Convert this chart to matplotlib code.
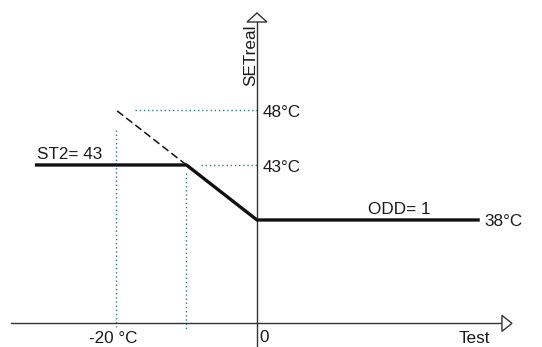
import matplotlib
matplotlib.use("Agg")
import matplotlib.pyplot as plt
from matplotlib.patches import Polygon

plt.rcParams['font.family'] = ['Liberation Sans', 'DejaVu Sans']

# Data (°C)
curve_x = [-31.5, -10, 0, 31.6]          # outdoor temperature
curve_y = [43, 43, 38, 38]               # SETreal
dash_x = [-10, -20]
dash_y = [43, 48]
st2 = 43
odd_val = 1
y_ticks = [48, 43]
y_tick_labels = ['48°C', '43°C']
end_label = '38°C'
x_tick_labels = ['-20 °C', '0']
x_tick_pos = [-20, 0]

x_axis_level = 28.6
x_axis_span = (-34.9, 34.75)
y_axis_top = 56.0

fig = plt.figure(figsize=(5.42, 3.47), dpi=100)
ax = fig.add_axes([0, 0, 1, 1])
ax.set_xlim(-36.45, 40.43)
ax.set_ylim(26.45, 58)
ax.axis('off')

axis_col = '#333333'
dot_col = '#2f7f72'

# axes lines
ax.plot(x_axis_span, [x_axis_level, x_axis_level], color=axis_col, lw=1.0, zorder=2)
ax.plot([0, 0], [26.45, y_axis_top], color=axis_col, lw=1.0, zorder=2)

# arrowheads (pixel offsets from axis ends)
def px(xd, yd):
    return ax.transData.transform((xd, yd))
inv = ax.transData.inverted()
ex, ey = px(x_axis_span[1], x_axis_level)
tri = [inv.transform((ex, ey + 8)), inv.transform((ex + 10, ey)), inv.transform((ex, ey - 8))]
ax.add_patch(Polygon(tri, closed=True, facecolor='white', edgecolor=axis_col, lw=1.0, zorder=3))
tx, ty = px(0, y_axis_top)
tri2 = [inv.transform((tx - 10, ty)), inv.transform((tx, ty + 9)), inv.transform((tx + 10, ty))]
ax.add_patch(Polygon(tri2, closed=True, facecolor='white', edgecolor=axis_col, lw=1.0, zorder=3))

# dotted guide lines
ax.plot([-17.3, 0], [dash_y[1], dash_y[1]], color=dot_col, lw=1.0, ls=(0, (1, 2)), zorder=1)
ax.plot([-8.0, 0], [st2, st2], color=dot_col, lw=1.0, ls=(0, (1, 2)), zorder=1)
ax.plot([dash_x[1], dash_x[1]], [46.2, x_axis_level - 0.3], color=dot_col, lw=1.0, ls=(0, (1, 2)), zorder=1)
ax.plot([dash_x[0], dash_x[0]], [42.3, x_axis_level - 0.6], color=dot_col, lw=1.0, ls=(0, (1, 2)), zorder=1)

# dashed extension
ax.plot(dash_x, dash_y, color='#111111', lw=1.1, ls=(0, (5, 2.5)), zorder=3)

# main curve
ax.plot(curve_x, curve_y, color='#111111', lw=2.4, solid_capstyle='butt', zorder=4)

fs = 12.3
tc = '#1a1a1a'
for yv, lab in zip(y_ticks, y_tick_labels):
    ax.text(0.8, yv - 0.25, lab, fontsize=fs, color=tc, ha='left', va='center')
ax.text(32.3, 37.9, end_label, fontsize=fs, color=tc, ha='left', va='center')
ax.text(-31.2, 43.3, f'ST2= {st2}', fontsize=fs, color=tc, ha='left', va='bottom')
ax.text(15.8, 38.3, f'ODD= {odd_val}', fontsize=fs, color=tc, ha='left', va='bottom')
ax.text(x_tick_pos[0] - 0.4, 26.55, x_tick_labels[0], fontsize=fs, color=tc, ha='center', va='bottom')
ax.text(0.35, 26.6, x_tick_labels[1], fontsize=fs, color=tc, ha='left', va='bottom')
ax.text(30.8, 26.55, 'Test', fontsize=fs, color=tc, ha='center', va='bottom')
ax.text(-0.95, 53.0, 'SETreal', fontsize=fs, color=tc, ha='center', va='center', rotation=90)

fig.savefig('out.png', dpi=100)
